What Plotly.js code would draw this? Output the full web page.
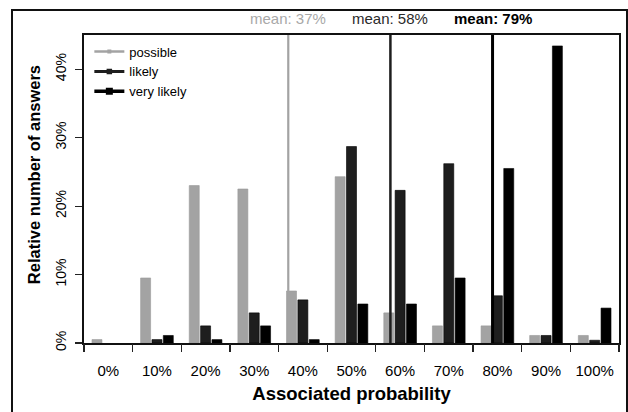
<!DOCTYPE html>
<html><head><meta charset="utf-8">
<script src="https://cdn.plot.ly/plotly-3.0.1.min.js"></script>
<style>
html,body{margin:0;padding:0;background:#fff;}
#wrap{position:relative;width:628px;height:412px;overflow:hidden;}
#chart{position:absolute;left:0;top:0;width:628px;height:412px;}
#frame{position:absolute;left:11px;top:9px;width:613px;height:420px;border:2px solid #111;pointer-events:none;}
</style></head>
<body>
<div id="wrap"><div id="chart"></div><div id="frame"></div></div>
<script>
const categories = ["0%","10%","20%","30%","40%","50%","60%","70%","80%","90%","100%"];
const seriesNames = ["possible","likely","very likely"];
const possible   = [0.5, 9.5, 23.0, 22.5, 7.6, 24.3, 4.4, 2.5, 2.5, 1.1, 1.1];
const likely     = [0.0, 0.5, 2.5, 4.4, 6.3, 28.7, 22.3, 26.2, 6.9, 1.1, 0.4];
const veryLikely = [0.0, 1.1, 0.5, 2.5, 0.5, 5.7, 5.7, 9.5, 25.5, 43.4, 5.1];
const means      = [37, 58, 79];
const yTicks     = [0, 10, 20, 30, 40];
const yTickText  = ["0%","10%","20%","30%","40%"];

const colors = ["#a3a3a3", "#1e1e1e", "#000000"];
const lineW  = [2.2, 2.5, 3];
const font = "Liberation Sans, Arial, Helvetica, sans-serif";

const xIdx = categories.map((c, i) => i);
const vals = [possible, likely, veryLikely];

const traces = [];
vals.forEach((v, k) => {
  traces.push({
    type: "bar", x: xIdx, y: v, name: seriesNames[k], showlegend: false,
    marker: {color: colors[k], line: {color: k === 0 ? "#999" : "#000", width: v.map(d => d > 0 ? 0.6 : 0)}},
    xaxis: "x", yaxis: "y"
  });
});
means.forEach((m, k) => {
  traces.push({
    type: "scatter", mode: "lines", x: [m / 10, m / 10], y: [0, 45],
    line: {color: colors[k], width: lineW[k]}, showlegend: false, hoverinfo: "skip"
  });
});
// legend entries
seriesNames.forEach((n, k) => {
  traces.push({
    type: "scatter", mode: "lines+markers", x: [null], y: [null], name: n,
    line: {color: colors[k], width: lineW[k] + 0.5},
    marker: {symbol: "square", size: 4 + k * 1.5, color: colors[k]}
  });
});
// boundary ticks axis
const boundaries = categories.concat([""]).map((c, i) => i - 0.5);
traces.push({type: "scatter", mode: "none", x: boundaries, y: boundaries.map(() => null),
  xaxis: "x2", yaxis: "y", showlegend: false, hoverinfo: "skip"});

const annotations = means.map((m, k) => ({
  x: m / 10, xref: "x", y: 1, yref: "paper", yanchor: "bottom", yshift: 6,
  text: k === 2 ? "<b>mean: " + m + "%</b>" : "mean: " + m + "%", showarrow: false,
  font: {family: font, size: 15, color: k === 0 ? "#a8a8a8" : (k === 1 ? "#2a2a2a" : "#000")}
}));
annotations.push({
  x: 34, xref: "paper", y: 0.545, yref: "paper", xanchor: "center", yanchor: "middle",
  text: "<b>Relative number of answers</b>", textangle: -90, showarrow: false,
  font: {family: font, size: 16.5, color: "#000"}
});
// convert the pixel x of y-title into paper coordinates
annotations[3].x = (34 - 84) / (628 - 84 - 9);

const layout = {
  width: 628, height: 412,
  margin: {l: 84, r: 9, t: 35, b: 69},
  paper_bgcolor: "#fff", plot_bgcolor: "#fff",
  barmode: "group", bargap: 0.3, bargroupgap: 0.12,
  font: {family: font, size: 13, color: "#000"},
  xaxis: {
    range: [-0.5, 10.5], tickvals: xIdx, ticktext: categories,
    ticks: "outside", ticklen: 13, tickcolor: "rgba(0,0,0,0)",
    showgrid: false, zeroline: false, showline: true, mirror: true,
    linecolor: "#111", linewidth: 1.8,
    tickfont: {family: font, size: 15},
    title: {text: "<b>Associated probability</b>", font: {family: font, size: 18.5}, standoff: 9}
  },
  xaxis2: {
    overlaying: "x", matches: "x", range: [-0.5, 10.5], tickvals: boundaries,
    showticklabels: false, ticks: "outside", ticklen: 8, tickwidth: 1.2, tickcolor: "#222",
    showgrid: false, zeroline: false, showline: false
  },
  yaxis: {
    range: [0, 45], tickvals: yTicks, ticktext: yTickText, tickangle: -90,
    ticks: "outside", ticklen: 7, tickwidth: 1.2, tickcolor: "#222",
    ticklabelstandoff: 4,
    showgrid: false, zeroline: false, showline: true, mirror: true,
    linecolor: "#111", linewidth: 1.8,
    tickfont: {family: font, size: 14}
  },
  legend: {
    x: 0.01, y: 0.995, xanchor: "left", yanchor: "top",
    bgcolor: "rgba(0,0,0,0)", font: {family: font, size: 13}, tracegroupgap: 0,
    itemwidth: 30
  },
  annotations: annotations
};

Plotly.newPlot("chart", traces, layout, {displayModeBar: false, staticPlot: true});
</script>
</body></html>
